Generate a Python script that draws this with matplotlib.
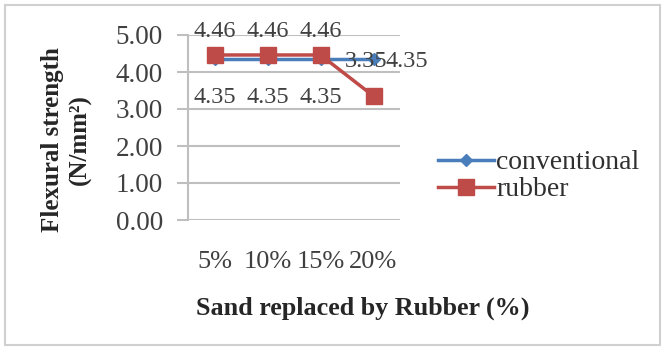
import matplotlib
matplotlib.use("Agg")
import matplotlib.pyplot as plt
from matplotlib.patches import Rectangle

categories = ["5%", "10%", "15%", "20%"]
conventional = [4.35, 4.35, 4.35, 4.35]
rubber = [4.46, 4.46, 4.46, 3.35]
y_ticks = [0.0, 1.0, 2.0, 3.0, 4.0, 5.0]

W, H = 663, 353
DPI = 100
plt.rcParams["font.family"] = ["Liberation Serif", "DejaVu Serif"]

fig = plt.figure(figsize=(W / DPI, H / DPI), dpi=DPI)
fig.patch.set_facecolor("white")

# outer chart border
fig.patches.append(Rectangle((5 / W, 8 / H), 655 / W, 340 / H, transform=fig.transFigure,
                             fill=False, edgecolor="#d0d0d0", linewidth=1.5))

ax = fig.add_axes([188 / W, (H - 220) / H, (400 - 188) / W, (220 - 35) / H])
x = list(range(len(categories)))

blue = "#4a7ebb"
red = "#be4b48"
tick_color = "#404040"
grid_color = "#bfbfbf"

ax.plot(x, conventional, color=blue, linewidth=2.5, marker="D", markersize=6,
        markerfacecolor=blue, markeredgecolor=blue, label="conventional", zorder=3)
ax.plot(x, rubber, color=red, linewidth=2.5, marker="s", markersize=12,
        markerfacecolor=red, markeredgecolor=red, label="rubber", zorder=4)

ax.set_xlim(-0.5, len(categories) - 0.5)
ax.set_ylim(0, 5)
ax.set_yticks(y_ticks)
ax.set_yticklabels([f"{v:.2f}" for v in y_ticks])
ax.set_xticks(x)
ax.set_xticklabels(categories)
ax.grid(axis="y", color=grid_color, linewidth=1.5)
ax.set_axisbelow(True)
for side in ["top", "right", "bottom"]:
    ax.spines[side].set_visible(False)
ax.spines["left"].set_color(grid_color)
ax.spines["left"].set_linewidth(1.5)
ax.tick_params(axis="y", length=8, width=1.5, color=grid_color, pad=10,
               labelsize=19.5, labelcolor=tick_color)
ax.tick_params(axis="x", length=0, pad=22, labelsize=19, labelcolor=tick_color)

# data labels
fs = 17.5
for i, v in enumerate(rubber):
    if i < 3:
        ax.annotate(f"{v:.2f}", (i, v), xytext=(0, 17), textcoords="offset points",
                    ha="center", va="center", fontsize=fs, color=tick_color)
    else:
        ax.annotate(f"{v:.2f}", (i, v), xytext=(-5, 25), textcoords="offset points",
                    ha="center", va="center", fontsize=fs, color=tick_color)
for i, v in enumerate(conventional):
    if i < 3:
        ax.annotate(f"{v:.2f}", (i, v), xytext=(0, -28), textcoords="offset points",
                    ha="center", va="center", fontsize=fs, color=tick_color)
    else:
        ax.annotate(f"{v:.2f}", (i, v), xytext=(9, -2), textcoords="offset points",
                    ha="left", va="center", fontsize=fs, color=tick_color)

fig.text(363 / W, 1 - 308 / H, "Sand replaced by Rubber (%)", ha="center", va="center",
         fontsize=18.8, fontweight="bold", color="#262626")
fig.text(66 / W, 1 - 140 / H, "Flexural strength\n(N/mm²)", ha="center", va="center",
         rotation=90, fontsize=18, fontweight="bold", color="#262626",
         linespacing=1.25, multialignment="center")

fig.legend(loc="upper left", bbox_to_anchor=(438 / W, 1 - 150 / H), frameon=False,
           fontsize=20, handlelength=2.0, handletextpad=0.1, labelspacing=0.05,
           borderpad=0, borderaxespad=0, labelcolor="#303030")

fig.savefig("out.png", dpi=DPI, facecolor="white")
